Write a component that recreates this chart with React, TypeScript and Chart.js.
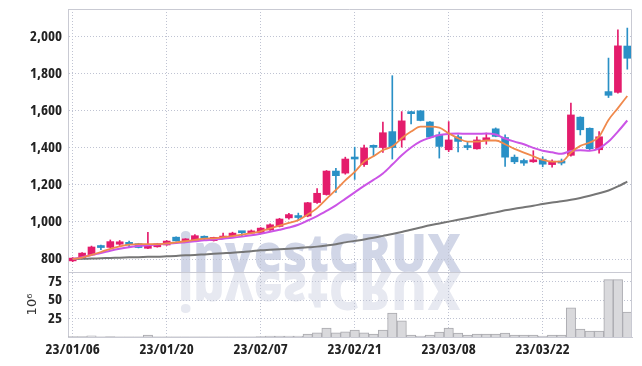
import React, { useEffect, useRef } from 'react';
import { Chart, registerables } from 'chart.js';

Chart.register(...registerables);

// ---- data ----
const dates = [
  '23/01/06', '23/01/09', '23/01/10', '23/01/11', '23/01/12', '23/01/13',
  '23/01/16', '23/01/17', '23/01/18', '23/01/19', '23/01/20',
  '23/01/25', '23/01/26', '23/01/27', '23/01/30', '23/01/31',
  '23/02/01', '23/02/02', '23/02/03', '23/02/06', '23/02/07',
  '23/02/08', '23/02/09', '23/02/10', '23/02/13', '23/02/14',
  '23/02/15', '23/02/16', '23/02/17', '23/02/20', '23/02/21',
  '23/02/22', '23/02/23', '23/02/24', '23/02/27', '23/02/28',
  '23/03/02', '23/03/03', '23/03/06', '23/03/07', '23/03/08',
  '23/03/09', '23/03/10', '23/03/13', '23/03/14', '23/03/15',
  '23/03/16', '23/03/17', '23/03/20', '23/03/21', '23/03/22',
  '23/03/23', '23/03/24', '23/03/27', '23/03/28', '23/03/29',
  '23/03/30', '23/03/31', '23/04/03', '23/04/04',
];

const opens = [
  790, 802, 822, 865, 863, 880, 890, 883, 858, 866,
  876, 918, 898, 901, 923, 899, 912, 924, 945, 940,
  943, 957, 976, 1022, 1033, 1032, 1105, 1148, 1275, 1264,
  1350, 1310, 1408, 1402, 1488, 1443, 1595, 1600, 1540, 1470,
  1390, 1460, 1410, 1395, 1444, 1503, 1456, 1350, 1332, 1325,
  1339, 1310, 1326, 1360, 1566, 1506, 1390, 1704, 1700, 1950,
];
const highs = [
  808, 835, 870, 876, 903, 900, 897, 885, 944, 885,
  900, 920, 910, 932, 925, 918, 940, 945, 946, 957,
  970, 990, 1020, 1047, 1048, 1106, 1180, 1278, 1290, 1350,
  1404, 1415, 1416, 1540, 1790, 1596, 1597, 1601, 1542, 1486,
  1542, 1470, 1430, 1460, 1480, 1508, 1470, 1362, 1340, 1385,
  1352, 1335, 1340, 1642, 1568, 1508, 1488, 1885, 2038, 2047,
];
const lows = [
  786, 800, 820, 850, 861, 873, 865, 860, 856, 864,
  874, 896, 895, 898, 900, 897, 910, 922, 922, 937,
  940, 955, 973, 1015, 1008, 1028, 1100, 1145, 1160, 1258,
  1230, 1300, 1355, 1375, 1340, 1404, 1530, 1546, 1455, 1345,
  1380, 1378, 1390, 1393, 1420, 1460, 1300, 1315, 1305, 1322,
  1298, 1296, 1308, 1355, 1470, 1390, 1372, 1672, 1695, 1825,
];
const closes = [
  805, 832, 865, 862, 894, 893, 877, 862, 876, 882,
  897, 898, 908, 926, 908, 917, 924, 940, 942, 952,
  967, 985, 1016, 1040, 1024, 1104, 1155, 1275, 1250, 1340,
  1340, 1400, 1403, 1482, 1402, 1546, 1585, 1548, 1458, 1408,
  1443, 1435, 1402, 1443, 1453, 1462, 1350, 1325, 1318, 1335,
  1312, 1328, 1318, 1578, 1498, 1396, 1460, 1684, 1951, 1884,
];

// volume, in millions (10^6)
const volumes = [
  0.4, 0.5, 1.5, 0.3, 0.4, 0.3, 0.3, 0.3, 2.7, 0.3,
  0.3, 0.3, 0.2, 0.3, 0.2, 0.2, 0.3, 0.3, 0.2, 0.3,
  0.4, 1.2, 1.2, 1.3, 1.3, 4.0, 5.5, 12.0, 5.6, 7.0,
  9.3, 5.6, 4.0, 9.5, 32.5, 21.8, 2.5, 1.1, 2.5, 6.6,
  12.0, 5.4, 2.5, 4.0, 4.0, 4.0, 5.4, 2.5, 2.5, 2.5,
  1.1, 2.5, 2.5, 39.5, 10.8, 8.1, 8.1, 77.6, 77.6, 33.8,
];

const ma5 = [
  800, 808, 822, 838, 855, 868, 878, 880, 880, 880,
  884, 890, 896, 903, 910, 912, 918, 924, 932, 940,
  950, 965, 980, 995, 1010, 1040, 1075, 1125, 1173, 1225,
  1270, 1326, 1355, 1388, 1407, 1452, 1488, 1515, 1515, 1510,
  1479, 1452, 1434, 1434, 1440, 1440, 1420, 1395, 1375, 1355,
  1335, 1326, 1326, 1375, 1411, 1429, 1461, 1551, 1615, 1680,
];
const ma20 = [
  800, 810, 822, 832, 845, 856, 864, 870, 874, 878,
  882, 886, 891, 896, 901, 905, 910, 915, 921, 928,
  937, 947, 958, 970, 985, 1008, 1032, 1060, 1090, 1125,
  1160, 1195, 1227, 1262, 1310, 1360, 1402, 1435, 1455, 1470,
  1476, 1478, 1476, 1476, 1478, 1472, 1450, 1434, 1420, 1400,
  1385, 1376, 1368, 1384, 1388, 1384, 1398, 1434, 1488, 1548,
];
const ma60 = [
  800, 801, 803, 804, 806, 807, 809, 810, 812, 813,
  815, 817, 820, 822, 825, 828, 831, 834, 838, 842,
  847, 850, 853, 856, 859, 863, 867, 873, 880, 890,
  898, 906, 915, 925, 935, 946, 958, 970, 982, 992,
  1002, 1012, 1022, 1032, 1042, 1052, 1063, 1072, 1080, 1088,
  1097, 1105, 1112, 1120, 1130, 1142, 1155, 1170, 1192, 1218,
];

const priceTicks = [800, 1000, 1200, 1400, 1600, 1800, 2000];
const volumeTicks = [25, 50, 75];
const dateTickIndexes = [0, 10, 20, 30, 40, 50];

// ---- styles ----
const UP = '#e41c6c';
const DOWN = '#2a90c6';
const TICK_FAMILY = "'Open Sans', 'Liberation Sans', sans-serif";
const TICK_WEIGHT = 'bold condensed';
const GRID = '#bfc3d2';
const FRAME = '#c9cad3';

const noPad = (s: any) => {
  s.paddingTop = 0;
  s.paddingBottom = 0;
  s.paddingLeft = 0;
  s.paddingRight = 0;
};

export default function App() {
  const ref = useRef<HTMLCanvasElement>(null);

  useEffect(() => {
    if (!ref.current) return;
    const idx = dates.map((_, i) => i);
    const colors = idx.map((i) => (closes[i] >= opens[i] ? UP : DOWN));

    const watermark = {
      id: 'watermark',
      beforeDraw(chart: any) {
        const { ctx, chartArea } = chart;
        const main = chart.scales.y;
        const base = main.bottom;
        const x0 = chartArea.left + (chartArea.right - chartArea.left) * 0.195;
        ctx.save();
        ctx.font = "800 53px 'Open Sans', 'Liberation Sans', sans-serif";
        ctx.textBaseline = 'alphabetic';
        ctx.textAlign = 'left';
        ctx.fillStyle = '#d1d6e7';
        ctx.fillText('investCRUX', x0, base, 283);
        ctx.translate(0, base * 2);
        ctx.scale(1, -1);
        ctx.fillStyle = '#e7e9f1';
        ctx.fillText('investCRUX', x0, base, 283);
        ctx.restore();
      },
    };

    const frame = {
      id: 'frame',
      afterDraw(chart: any) {
        const { ctx, chartArea } = chart;
        const main = chart.scales.y;
        ctx.save();
        ctx.strokeStyle = FRAME;
        ctx.lineWidth = 1;
        ctx.beginPath();
        const t = Math.round(chartArea.top) + 0.5;
        const r = Math.round(chartArea.right) - 0.5;
        const s = Math.round(main.bottom) + 0.5;
        ctx.moveTo(chartArea.left, t);
        ctx.lineTo(r, t);
        ctx.lineTo(r, chartArea.bottom);
        ctx.moveTo(chartArea.left, s);
        ctx.lineTo(r, s);
        ctx.stroke();
        ctx.restore();
      },
    };

    const tickFont = { family: TICK_FAMILY, size: 15, weight: TICK_WEIGHT as any };

    const chart = new Chart(ref.current, {
      type: 'bar',
      data: {
        datasets: [
          {
            type: 'line',
            label: 'MA5',
            data: idx.map((i) => ({ x: i, y: ma5[i] })),
            yAxisID: 'y',
            borderColor: '#f0894c',
            borderWidth: 1.8,
            pointRadius: 0,
            cubicInterpolationMode: 'monotone',
            order: 0,
          } as any,
          {
            type: 'line',
            label: 'MA20',
            data: idx.map((i) => ({ x: i, y: ma20[i] })),
            yAxisID: 'y',
            borderColor: '#cb54e6',
            borderWidth: 2,
            pointRadius: 0,
            cubicInterpolationMode: 'monotone',
            order: 0,
          } as any,
          {
            type: 'line',
            label: 'MA60',
            data: idx.map((i) => ({ x: i, y: ma60[i] })),
            yAxisID: 'y',
            borderColor: '#767676',
            borderWidth: 2,
            pointRadius: 0,
            cubicInterpolationMode: 'monotone',
            order: 0,
          } as any,
          {
            type: 'bar',
            label: 'wick',
            data: idx.map((i) => ({ x: i, y: [lows[i], highs[i]] })),
            yAxisID: 'y',
            backgroundColor: colors,
            barThickness: 1,
            grouped: false,
            order: 2,
          } as any,
          {
            type: 'bar',
            label: 'body',
            data: idx.map((i) => ({ x: i, y: [opens[i], closes[i]] })),
            yAxisID: 'y',
            backgroundColor: colors,
            barThickness: 7,
            minBarLength: 2,
            grouped: false,
            order: 1,
          } as any,
          {
            type: 'bar',
            label: 'volume',
            data: idx.map((i) => ({ x: i, y: volumes[i] })),
            yAxisID: 'yVol',
            backgroundColor: '#d9d9dc',
            borderColor: '#a9a9ae',
            borderWidth: 1,
            barPercentage: 1,
            categoryPercentage: 1,
            grouped: false,
            order: 3,
          } as any,
        ],
      },
      options: {
        animation: false,
        responsive: false,
        layout: { padding: { top: 9, right: 10, left: 18, bottom: 0 } },
        plugins: { legend: { display: false }, tooltip: { enabled: false } },
        scales: {
          x: {
            type: 'linear',
            offset: false,
            min: -0.5,
            max: dates.length - 0.5,
            afterBuildTicks: (s: any) => {
              s.ticks = dateTickIndexes.map((v) => ({ value: v }));
            },
            afterFit: (s: any) => {
              s.height = 29;
              noPad(s);
            },
            ticks: {
              callback: (v: any) => dates[v as number],
              font: tickFont,
              color: '#222',
              padding: 4,
              maxRotation: 0,
              autoSkip: false,
            },
            grid: { color: GRID, drawTicks: false, offset: false },
            border: { display: true, color: FRAME, dash: [1, 2] },
          },
          yVol: {
            type: 'linear',
            position: 'left',
            stack: 'panels',
            stackWeight: 65,
            min: 0,
            max: 88,
            afterBuildTicks: (s: any) => {
              s.ticks = volumeTicks.map((v) => ({ value: v }));
            },
            afterFit: (s: any) => {
              s.width = 50;
              noPad(s);
            },
            ticks: { font: tickFont, color: '#222', padding: 6, autoSkip: false },
            grid: { color: GRID, drawTicks: false },
            border: { display: true, color: FRAME, dash: [1, 2] },
            title: {
              display: true,
              text: '10⁶',
              color: '#333',
              font: { family: "'DejaVu Sans', sans-serif", size: 13 },
              padding: { top: 7, bottom: 0 },
            },
          },
          y: {
            type: 'linear',
            position: 'left',
            stack: 'panels',
            stackWeight: 263,
            min: 730,
            max: 2150,
            afterBuildTicks: (s: any) => {
              s.ticks = priceTicks.map((v) => ({ value: v }));
            },
            afterFit: (s: any) => {
              s.width = 50;
              noPad(s);
            },
            ticks: {
              font: tickFont,
              color: '#222',
              padding: 6,
              autoSkip: false,
              callback: (v: any) => Number(v).toLocaleString('en-US'),
            },
            grid: { color: GRID, drawTicks: false },
            border: { display: true, color: FRAME, dash: [1, 2] },
          },
        },
      } as any,
      plugins: [watermark, frame],
    });

    return () => chart.destroy();
  }, []);

  return (
    <canvas
      ref={ref}
      width={642}
      height={366}
      style={{ position: 'absolute', left: 0, top: 0, display: 'block' }}
    />
  );
}
